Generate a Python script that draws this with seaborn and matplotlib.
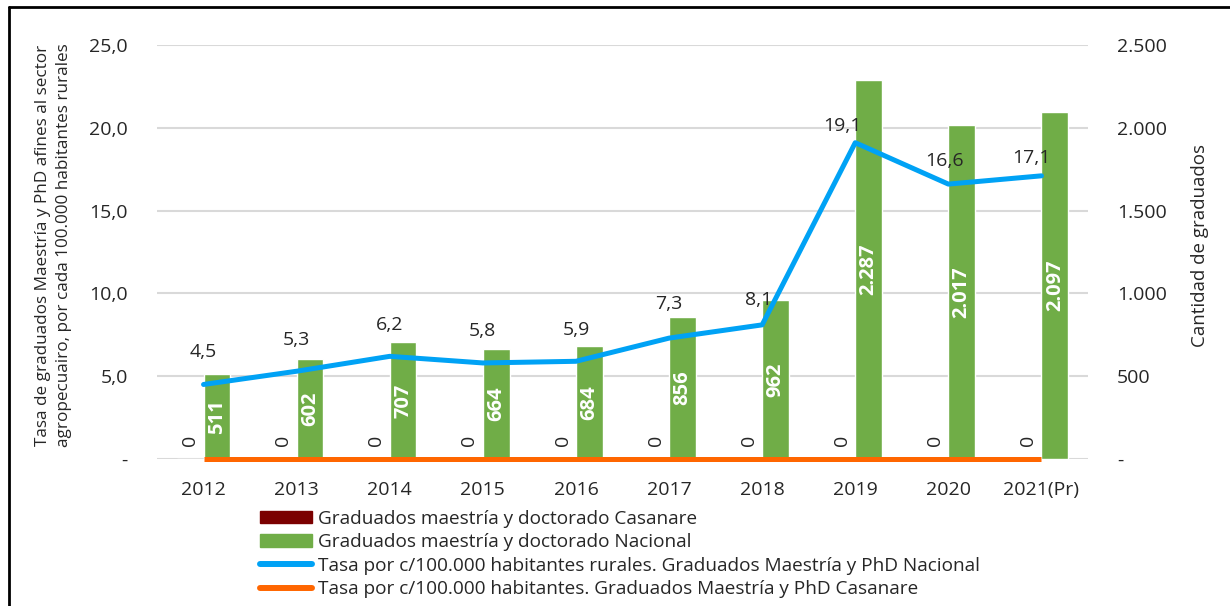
import numpy as np
import pandas as pd
import seaborn as sns
import matplotlib.pyplot as plt
from matplotlib.patches import Patch
from matplotlib.lines import Line2D

anios = ['2012', '2013', '2014', '2015', '2016', '2017', '2018', '2019', '2020', '2021(Pr)']
grad_nacional = [511, 602, 707, 664, 684, 856, 962, 2287, 2017, 2097]
grad_casanare = [0, 0, 0, 0, 0, 0, 0, 0, 0, 0]
tasa_nacional = [4.5, 5.3, 6.2, 5.8, 5.9, 7.3, 8.1, 19.1, 16.6, 17.1]
tasa_casanare = [0, 0, 0, 0, 0, 0, 0, 0, 0, 0]

lbl_cas = 'Graduados maestría y doctorado Casanare'
lbl_nac = 'Graduados maestría y doctorado Nacional'
lbl_tnac = 'Tasa por c/100.000 habitantes rurales. Graduados Maestría y PhD Nacional'
lbl_tcas = 'Tasa por c/100.000 habitantes. Graduados Maestría y PhD Casanare'

c_cas = '#7B0000'
c_nac = '#70AD47'
c_blue = '#00A2F5'
c_orange = '#FF6600'

# label offsets (pixels) for the rate labels, as placed in the original
lab_dx = [0, 0, 0, 0, 0, 0, -4, -13, -4, -10]
lab_dy = [32, 31, 31, 32, 31, 34, 25, 17, 23, 18]

df = pd.DataFrame({
    'anio': anios * 2,
    'cantidad': grad_casanare + grad_nacional,
    'serie': [lbl_cas] * len(anios) + [lbl_nac] * len(anios),
})

sns.set_style('white')
plt.rcParams['font.family'] = ['Open Sans', 'DejaVu Sans']

fig = plt.figure(figsize=(12.3, 6.06), dpi=100)
ax = fig.add_axes([157 / 1230, 1 - 459 / 606, (1088 - 157) / 1230, (459 - 45) / 606])
ax2 = ax.twinx()

# bars on the right axis (counts)
sns.barplot(data=df, x='anio', y='cantidad', hue='serie', palette=[c_cas, c_nac],
            width=0.574, gap=0, ax=ax2, legend=False, saturation=1)
ax2.set_ylim(0, 2500)
ax2.set_yticks([0, 500, 1000, 1500, 2000, 2500])
ax2.set_yticklabels(['-', '500', '1.000', '1.500', '2.000', '2.500'])
ax2.set_axisbelow(True)
ax2.yaxis.grid(True, color='#D9D9D9', lw=1.5)
ax2.set_xlabel('')
ax2.set_ylabel('')

ax2.bar_label(ax2.containers[0], labels=['0'] * len(anios), rotation=90,
              padding=9, fontsize=14)
ax2.bar_label(ax2.containers[1], labels=[f'{v:,}'.replace(',', '.') for v in grad_nacional],
              label_type='center', rotation=90, color='white', fontweight='bold', fontsize=14.5)

# lines on the left axis (rates)
pos = np.arange(len(anios))
sns.lineplot(x=pos, y=tasa_nacional, ax=ax, color=c_blue, lw=3.6, clip_on=False)
sns.lineplot(x=pos, y=tasa_casanare, ax=ax, color=c_orange, lw=3.6, clip_on=False,
             solid_capstyle='butt')
for x, v, dx, dy in zip(pos, tasa_nacional, lab_dx, lab_dy):
    ax.annotate(f'{v:.1f}'.replace('.', ','), (x, v), xytext=(dx * 0.72, dy * 0.72),
                textcoords='offset points', ha='center', va='center', fontsize=14)

ax.set_zorder(ax2.get_zorder() + 1)
ax.patch.set_visible(False)
ax.set_ylim(0, 25)
ax.set_xlim(-0.5, len(anios) - 0.5)
ax.set_yticks([0, 5, 10, 15, 20, 25])
ax.set_yticklabels(['-', '5,0', '10,0', '15,0', '20,0', '25,0'])
ax.set_xticks(pos)
ax.set_xticklabels(anios)
ax.grid(False)

for a in (ax, ax2):
    for s in a.spines.values():
        s.set_visible(False)
    a.tick_params(length=0, labelsize=14)
ax.tick_params(axis='y', pad=21)
ax.tick_params(axis='x', pad=16)
ax2.tick_params(axis='y', pad=21)

fig.text(53.5 / 1230, 1 - 245 / 606, 'Tasa de graduados Maestría y PhD afines al sector\nagropecuairo, por cada 100.000 habitantes rurales',
         rotation=90, ha='center', va='center', multialignment='center', fontsize=12.3, linespacing=1.35)
fig.text(1200 / 1230, 1 - 245 / 606, 'Cantidad de graduados', rotation=90,
         ha='center', va='center', fontsize=13.5)

handles = [
    Patch(color=c_cas),
    Patch(color=c_nac),
    Line2D([], [], color=c_blue, lw=4.3, solid_capstyle='round'),
    Line2D([], [], color=c_orange, lw=4.3, solid_capstyle='round'),
]
fig.legend(handles, [lbl_cas, lbl_nac, lbl_tnac, lbl_tcas], loc='upper left',
           bbox_to_anchor=(260 / 1230, 1 - 510 / 606), frameon=False, fontsize=13.7,
           handlelength=2.75, handleheight=0.62, handletextpad=0.3, labelspacing=0.28,
           borderpad=0, borderaxespad=0)

# frame lines (top and left)
fig.add_artist(Line2D([9 / 1230, 9 / 1230], [0, 1 - 7 / 606], transform=fig.transFigure, color='black', lw=2))
fig.add_artist(Line2D([9 / 1230, 1], [1 - 7 / 606, 1 - 7 / 606], transform=fig.transFigure, color='black', lw=2))

fig.savefig('out.png', dpi=100)
